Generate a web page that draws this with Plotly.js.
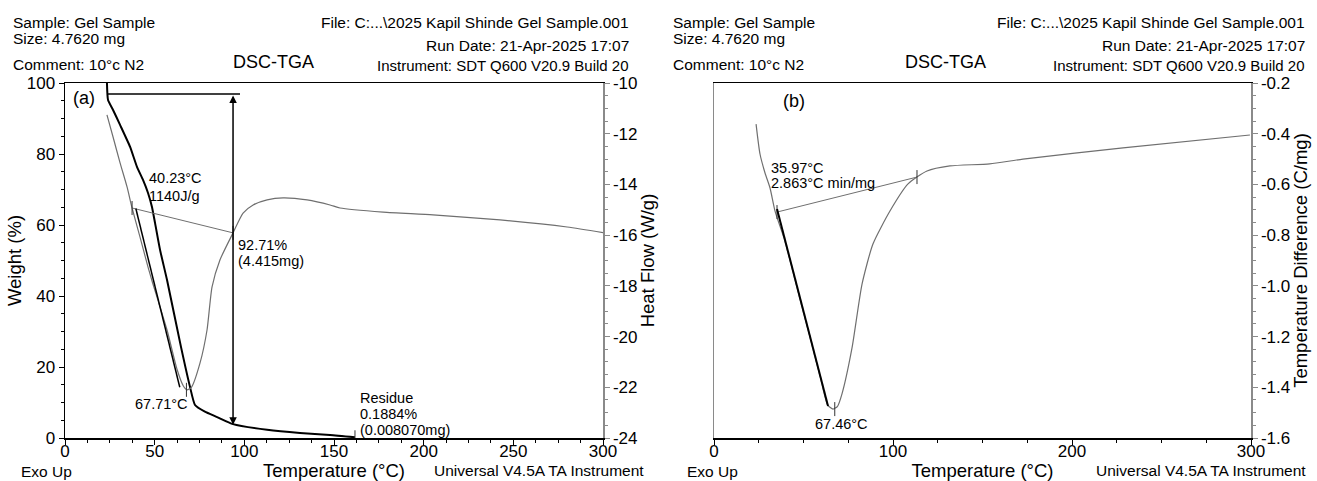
<!DOCTYPE html>
<html>
<head>
<meta charset="utf-8">
<script src="https://cdn.plot.ly/plotly-3.0.1.min.js"></script>
<style>html,body{margin:0;padding:0;background:#fff;}#chart{width:1317px;height:481px;}</style>
</head>
<body>
<div id="chart"></div>
<script>
// ---------- Panel (a): TGA weight + DSC heat flow ----------
const aWeightT   = [23.4, 24.0, 26.8, 30.7, 36.3, 40.2, 43.5, 46.3, 48.5, 50.2, 53.0, 56.9, 64.7, 69.7, 72.5, 78.0, 84.8, 93.7, 112.7, 131.0, 147.8, 161.7];
const aWeightPct = [100.0, 95.2, 92.4, 88.2, 82.0, 76.3, 72.7, 69.0, 65.1, 60.6, 53.0, 44.5, 25.6, 14.4, 9.3, 7.4, 5.9, 3.9, 2.3, 1.4, 0.85, 0.2];

const aDscT  = [23.4, 26.8, 30.7, 34.6, 37.4, 41.8, 46.3, 48.5, 56.9, 62.5, 66.0, 68.0, 70.5, 75.3, 79.2, 82.0, 86.4, 93.7, 99.3, 104.9, 112.7, 121.6, 135.0, 147.8, 153.4, 177.4, 205.2, 242.6, 280.0, 300.0];
const aDscHF = [-11.26, -12.13, -13.15, -14.1, -14.93, -16.07, -17.26, -17.8, -19.74, -21.3, -21.95, -22.1, -22.0, -21.04, -19.74, -18.04, -16.98, -15.91, -15.13, -14.81, -14.61, -14.53, -14.61, -14.81, -14.93, -15.09, -15.2, -15.4, -15.68, -15.9];

const aTangentT  = [39.5, 64.0];
const aTangentHF = [-14.95, -22.0];
const aBaseT  = [37.4, 93.7];
const aBaseHF = [-14.93, -15.91];
const aPeakT = [67.71], aPeakHF = [-22.1];
const aStepT = 93.7, aStepTop = 96.9, aStepBottom = 3.7;
const aStepLineT = [24.0, 97.6];
const aResidueT = [161.7], aResiduePct = [0.2];

const aWeightTicks = [0, 20, 40, 60, 80, 100];
const aHfTicks = [-24, -22, -20, -18, -16, -14, -12, -10];
const aHfTickText = ['-24', '-22', '-20', '-18', '-16', '-14', '-12', '-10'];
const aTempTicks = [0, 50, 100, 150, 200, 250, 300];

// ---------- Panel (b): DTA temperature difference ----------
const bT   = [23.5, 25.7, 28.5, 31.3, 34.1, 39.6, 48.3, 53.2, 60.0, 63.5, 66.5, 69.0, 71.5, 77.1, 82.7, 88.8, 98.3, 108.4, 119.0, 131.8, 154.0, 172.6, 228.5, 299.4];
const bDiff = [-0.362, -0.48, -0.555, -0.614, -0.705, -0.823, -1.06, -1.19, -1.378, -1.47, -1.486, -1.475, -1.426, -1.245, -0.993, -0.835, -0.705, -0.598, -0.547, -0.527, -0.519, -0.50, -0.456, -0.405];
const bTangentT = [35.2, 63.7];
const bTangentD = [-0.697, -1.474];
const bBaseT = [35.2, 113.4];
const bBaseD = [-0.709, -0.571];
const bPeakT = [67.46], bPeakD = [-1.486];
const bDiffTicks = [-1.6, -1.4, -1.2, -1.0, -0.8, -0.6, -0.4, -0.2];
const bDiffTickText = ['-1.6', '-1.4', '-1.2', '-1.0', '-0.8', '-0.6', '-0.4', '-0.2'];
const bTempTicks = [0, 100, 200, 300];

// ---------- Text ----------
const headerLeft  = ['Sample: Gel Sample', 'Size: 4.7620 mg', 'Comment: 10°c N2'];
const headerRight = ['File: C:...\\2025 Kapil Shinde Gel Sample.001', 'Run Date: 21-Apr-2025 17:07', 'Instrument: SDT Q600 V20.9 Build 20'];
const chartTitle = 'DSC-TGA';
const footLeft = 'Exo Up';
const footRight = 'Universal V4.5A TA Instrument';

// ---------- Geometry ----------
const W = 1317, H = 481, ML = 65, MR = 66, MT = 83, MB = 43;
const PW = W - ML - MR, PH = H - MT - MB;
const px = x => (x - ML) / PW;
const py = y => (H - MB - y) / PH;
const FONT = 'Liberation Sans, Arial, Helvetica, sans-serif';
const GRAY = '#6f6f6f';
const AXGRAY = '#8a8a8a';

function note(text, x, y, xanchor, size, xref, yref) {
  return {text: text, x: x, y: y, xref: xref || 'paper', yref: yref || 'paper',
    xanchor: xanchor, yanchor: 'middle', showarrow: false,
    font: {family: FONT, size: size, color: '#000'}, borderpad: 0};
}

const annotations = [];
const headerLeftY = [22, 39, 64];
const headerRightY = [22, 46, 65];
[[12, 630, 232], [672, 1306, 904]].forEach(function (p) {
  headerLeft.forEach((t, i) => annotations.push(note(t, px(p[0]), py(headerLeftY[i]), 'left', 15.5)));
  headerRight.forEach((t, i) => annotations.push(note(t, px(p[1]), py(headerRightY[i]), 'right', i === 2 ? 15 : 15.5)));
  annotations.push(note(chartTitle, px(p[2]), py(62), 'left', 18));
});
annotations.push(note(footLeft, px(20), py(471), 'left', 15.5));
annotations.push(note(footRight, px(433), py(470), 'left', 15.5));
annotations.push(note(footLeft, px(686), py(471), 'left', 15.5));
annotations.push(note(footRight, px(1095), py(470), 'left', 15.5));

annotations.push(note('(a)', 3.9, 95.8, 'left', 18, 'x', 'y'));
annotations.push(note('40.23°C', 46.3, 73.2, 'left', 14.5, 'x', 'y'));
annotations.push(note('1140J/g', 46.3, 68.2, 'left', 14.5, 'x', 'y'));
annotations.push(note('92.71%', 95.9, 54.4, 'left', 14.5, 'x', 'y'));
annotations.push(note('(4.415mg)', 95.9, 49.9, 'left', 14.5, 'x', 'y'));
annotations.push(note('67.71°C', 38.5, 9.6, 'left', 14.5, 'x', 'y'));
annotations.push(note('Residue', 164, 11.3, 'left', 14.5, 'x', 'y'));
annotations.push(note('0.1884%', 164, 6.8, 'left', 14.5, 'x', 'y'));
annotations.push(note('(0.008070mg)', 164, 2.3, 'left', 14.5, 'x', 'y'));
annotations.push({x: aStepT, y: aStepBottom, ax: aStepT, ay: aStepTop, xref: 'x', yref: 'y', axref: 'x', ayref: 'y',
  text: '', showarrow: true, arrowside: 'end+start', arrowhead: 2, arrowsize: 1, arrowwidth: 1.5, arrowcolor: '#000'});

annotations.push(note('(b)', 38, -0.271, 'left', 18, 'x2', 'y3'));
annotations.push(note('35.97°C', 31.3, -0.535, 'left', 14.5, 'x2', 'y3'));
annotations.push(note('2.863°C min/mg', 31.3, -0.594, 'left', 14.5, 'x2', 'y3'));
annotations.push(note('67.46°C', 55.9, -1.545, 'left', 14.5, 'x2', 'y3'));

const tickMark = {symbol: 'line-ns-open', size: 10, color: '#333', line: {color: '#333', width: 1}};

const data = [
  {x: aDscT, y: aDscHF, xaxis: 'x', yaxis: 'y2', mode: 'lines', line: {color: GRAY, width: 1.2, shape: 'spline', smoothing: 0.6}, name: 'Heat Flow'},
  {x: aBaseT, y: aBaseHF, xaxis: 'x', yaxis: 'y2', mode: 'lines+markers', line: {color: GRAY, width: 1}, marker: tickMark, name: 'baseline'},
  {x: aTangentT, y: aTangentHF, xaxis: 'x', yaxis: 'y2', mode: 'lines', line: {color: '#000', width: 1.5}, name: 'onset'},
  {x: aPeakT, y: aPeakHF, xaxis: 'x', yaxis: 'y2', mode: 'markers', marker: tickMark, name: 'peak'},
  {x: aWeightT, y: aWeightPct, xaxis: 'x', yaxis: 'y', mode: 'lines', line: {color: '#000', width: 2, shape: 'spline', smoothing: 0.5}, name: 'Weight'},
  {x: aStepLineT, y: [aStepTop, aStepTop], xaxis: 'x', yaxis: 'y', mode: 'lines', line: {color: '#000', width: 1.5}, name: 'step'},
  {x: aResidueT, y: aResiduePct, xaxis: 'x', yaxis: 'y', mode: 'markers', marker: tickMark, name: 'residue'},
  {x: bT, y: bDiff, xaxis: 'x2', yaxis: 'y3', mode: 'lines', line: {color: GRAY, width: 1.2, shape: 'spline', smoothing: 0.6}, name: 'Temp Diff'},
  {x: bBaseT, y: bBaseD, xaxis: 'x2', yaxis: 'y3', mode: 'lines+markers', line: {color: GRAY, width: 1}, marker: tickMark, name: 'baseline b'},
  {x: bTangentT, y: bTangentD, xaxis: 'x2', yaxis: 'y3', mode: 'lines', line: {color: '#000', width: 2}, name: 'onset b'},
  {x: bPeakT, y: bPeakD, xaxis: 'x2', yaxis: 'y3', mode: 'markers', marker: tickMark, name: 'peak b'}
];

const tickFont = {family: FONT, size: 17, color: '#000'};
const titleFont = {family: FONT, size: 18.5, color: '#000'};
const baseAxis = {showgrid: false, zeroline: false, ticks: 'outside', ticklen: 5, tickwidth: 1,
  showline: true, tickfont: tickFont, automargin: false, fixedrange: true};

const layout = {
  width: W, height: H,
  margin: {l: ML, r: MR, t: MT, b: MB, pad: 0},
  paper_bgcolor: '#fff', plot_bgcolor: '#fff',
  showlegend: false,
  font: {family: FONT, color: '#000'},
  xaxis: Object.assign({}, baseAxis, {domain: [0, px(603)], range: [0, 300], anchor: 'y',
    tickmode: 'array', tickvals: aTempTicks, linecolor: '#000', linewidth: 1.5, tickcolor: '#000', mirror: true,
    ticklabelstandoff: -8,
    minor: {dtick: 12.5, tick0: 0, ticklen: 3, ticks: 'outside', tickcolor: '#000'},
    title: {text: 'Temperature (°C)', font: titleFont, standoff: 12}}),
  yaxis: Object.assign({}, baseAxis, {domain: [0, 1], range: [0, 100], anchor: 'x',
    tickmode: 'array', tickvals: aWeightTicks, linecolor: '#000', linewidth: 1.5, tickcolor: '#000',
    minor: {dtick: 5, tick0: 0, ticklen: 3, ticks: 'outside', tickcolor: '#000'},
    title: {text: 'Weight (%)', font: titleFont, standoff: 0}}),
  yaxis2: Object.assign({}, baseAxis, {overlaying: 'y', side: 'right', anchor: 'x', range: [-24, -10],
    tickmode: 'array', tickvals: aHfTicks, ticktext: aHfTickText, linecolor: AXGRAY, linewidth: 1.5, tickcolor: AXGRAY,
    minor: {dtick: 0.5, tick0: -24, ticklen: 3, ticks: 'outside', tickcolor: AXGRAY},
    title: {text: 'Heat Flow (W/g)', font: titleFont, standoff: 0}}),
  xaxis2: Object.assign({}, baseAxis, {domain: [px(714), 1], range: [0, 300], anchor: 'y3',
    tickmode: 'array', tickvals: bTempTicks, linecolor: '#000', linewidth: 1.5, tickcolor: '#000', mirror: true,
    ticklabelstandoff: -8,
    minor: {dtick: 25, tick0: 0, ticklen: 3, ticks: 'outside', tickcolor: '#000'},
    title: {text: 'Temperature (°C)', font: titleFont, standoff: 12}}),
  yaxis3: Object.assign({}, baseAxis, {domain: [0, 1], range: [-1.6, -0.2], anchor: 'x2', side: 'right',
    tickmode: 'array', tickvals: bDiffTicks, ticktext: bDiffTickText, linecolor: AXGRAY, linewidth: 1.5, tickcolor: AXGRAY, mirror: true,
    minor: {dtick: 0.05, tick0: -1.6, ticklen: 3, ticks: 'outside', tickcolor: AXGRAY},
    title: {text: 'Temperature Difference (C/mg)', font: titleFont, standoff: 0}}),
  annotations: annotations
};

Plotly.newPlot('chart', data, layout, {displayModeBar: false, staticPlot: true});
</script>
</body>
</html>
